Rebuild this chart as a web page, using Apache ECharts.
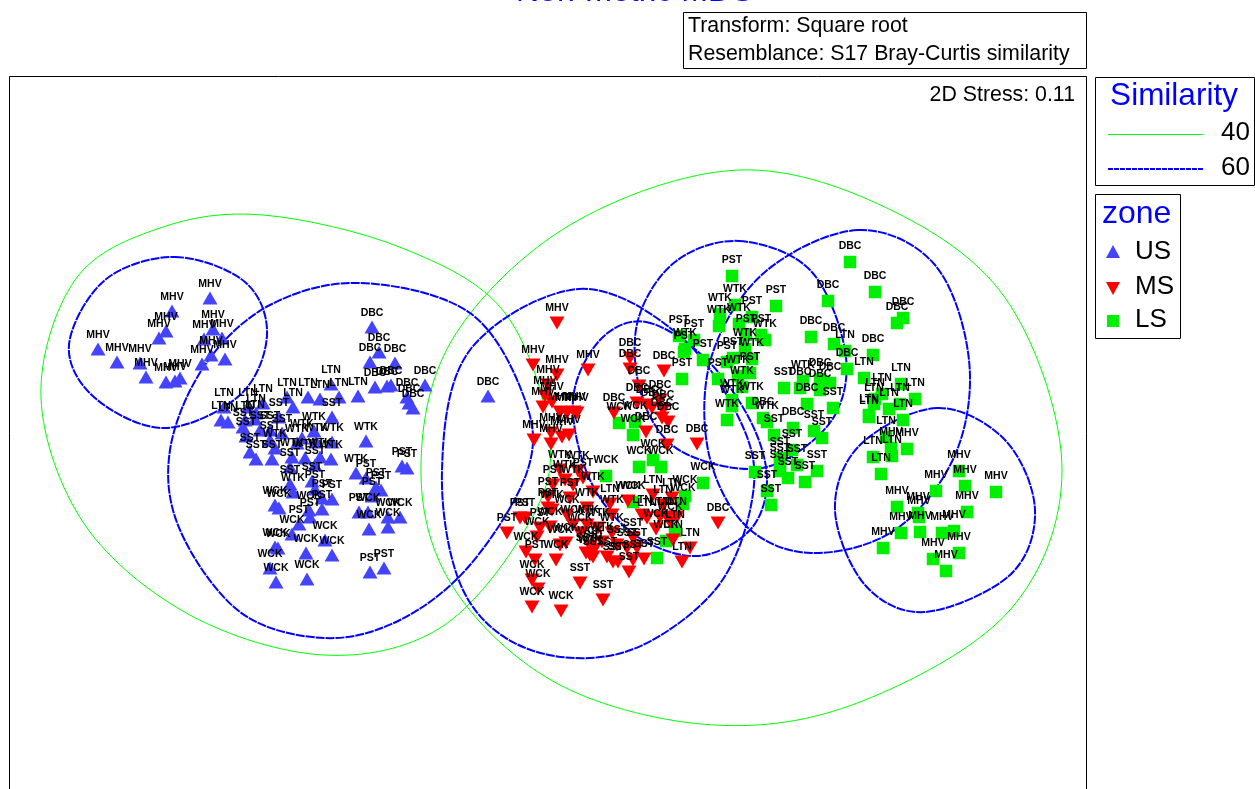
<!DOCTYPE html>
<html>
<head>
	<meta charset="utf-8">
	<title>Non-metric MDS</title>
	<style>html,body{margin:0;padding:0;background:#fff;overflow:hidden}</style>
</head>
<body>
	<div id="mds" style="width:1255px;height:789px;"></div>
	<script src="https://cdn.jsdelivr.net/npm/echarts@6/dist/echarts.min.js"></script>
	<script type="text/javascript">
		// ordination points, [x, y, site]
		var usPoints = [
			[210,298,'MHV'],[172,311,'MHV'],[166,331,'MHV'],[159,338,'MHV'],[98,349,'MHV'],[117,362,'MHV'],[140,363,'MHV'],[146,377,'MHV'],
			[166,382,'MHV'],[175,381,'MHV'],[180,378,'MHV'],[202,364,'MHV'],[211,355,'MHV'],[225,359,'MHV'],[204,339,'MHV'],[222,338,'MHV'],[213,329,'MHV'],
			[372,327,'DBC'],[370,362,'DBC'],[379,352,'DBC'],[395,363,'DBC'],[375,387,'DBC'],[387,386,'DBC'],[391,385,'DBC'],[425,385,'DBC'],[407,397,'DBC'],[409,403,'DBC'],[413,408,'DBC'],[488,396,'DBC'],
			[331,384,'LTN'],[287,397,'LTN'],[308,397,'LTN'],[320,399,'LTN'],[339,397,'LTN'],[358,396,'LTN'],[293,407,'LTN'],[224,407,'LTN'],[248,407,'LTN'],[263,403,'LTN'],[256,413,'LTN'],[221,420,'LTN'],[228,422,'LTN'],[245,420,'LTN'],[255,419,'LTN'],
			[279,417,'SST'],[332,417,'SST'],[243,427,'SST'],[260,430,'SST'],[270,430,'SST'],[282,433,'SST'],[246,436,'SST'],[270,440,'SST'],[250,452,'SST'],[256,459,'SST'],[272,459,'SST'],[290,467,'SST'],[315,465,'SST'],[290,484,'SST'],[312,481,'SST'],
			[314,431,'WTK'],[302,438,'WTK'],[297,443,'WTK'],[316,442,'WTK'],[332,442,'WTK'],[275,448,'WTK'],[292,457,'WTK'],[305,458,'WTK'],[320,457,'WTK'],[331,459,'WTK'],[366,441,'WTK'],[356,473,'WTK'],[293,492,'WTK'],
			[366,478,'PST'],[376,487,'PST'],[381,490,'PST'],[372,496,'PST'],[402,466,'PST'],[407,468,'PST'],[315,489,'PST'],[322,498,'PST'],[332,499,'PST'],[322,509,'PST'],[310,517,'PST'],[299,524,'PST'],[359,512,'PST'],[370,572,'PST'],[384,568,'PST'],
			[275,505,'WCK'],[279,508,'WCK'],[309,510,'WCK'],[368,512,'WCK'],[388,517,'WCK'],[400,517,'WCK'],[369,529,'WCK'],[388,527,'WCK'],[292,534,'WCK'],[325,540,'WCK'],[275,547,'WCK'],[278,548,'WCK'],[306,553,'WCK'],[332,555,'WCK'],[270,568,'WCK'],[276,582,'WCK'],[307,579,'WCK']
		];
		var msPoints = [
			[557,323,'MHV'],[533,365,'MHV'],[557,375,'MHV'],[588,370,'MHV'],[548,385,'MHV'],[545,396,'MHV'],[552,402,'MHV'],[543,407,'MHV'],[560,412,'MHV'],[567,413,'MHV'],[574,412,'MHV'],[577,413,'MHV'],[534,440,'MHV'],[551,433,'MHV'],[551,444,'MHV'],[562,437,'MHV'],[569,435,'MHV'],
			[630,358,'DBC'],[630,369,'DBC'],[664,371,'DBC'],[639,386,'DBC'],[614,413,'DBC'],[637,403,'DBC'],[647,405,'DBC'],[660,400,'DBC'],[663,410,'DBC'],[662,418,'DBC'],[668,422,'DBC'],[646,432,'DBC'],[667,445,'DBC'],[697,444,'DBC'],[652,408,'DBC'],[718,523,'DBC'],
			[560,470,'WTK'],[578,471,'WTK'],[565,480,'WTK'],[573,485,'WTK'],[593,492,'WTK'],[587,508,'WTK'],[552,510,'WTK'],[587,525,'WTK'],[598,528,'WTK'],[612,533,'WTK'],[602,542,'WTK'],[590,555,'WTK'],[612,515,'WTK'],
			[583,478,'PST'],[553,485,'PST'],[548,497,'PST'],[570,498,'PST'],[520,518,'PST'],[525,518,'PST'],[507,533,'PST'],[540,528,'PST'],[548,508,'PST'],[535,560,'PST'],
			[567,515,'WCK'],[550,527,'WCK'],[526,552,'WCK'],[556,560,'WCK'],[537,537,'WCK'],[560,545,'WCK'],[566,543,'WCK'],[573,525,'WCK'],[580,533,'WCK'],[590,546,'WCK'],[532,580,'WCK'],[538,589,'WCK'],[532,607,'WCK'],[561,611,'WCK'],
			[633,538,'SST'],[586,553,'SST'],[593,557,'SST'],[594,550,'SST'],[607,557,'SST'],[613,562,'SST'],[618,562,'SST'],[617,545,'SST'],[627,548,'SST'],[637,548,'SST'],[633,560,'SST'],[644,559,'SST'],[629,572,'SST'],[580,583,'SST'],[603,600,'SST'],
			[610,504,'LTN'],[628,501,'WCK'],[672,498,'LTN'],[663,505,'LTN'],[642,515,'LTN'],[653,495,'LTN'],[647,518,'LTN'],[656,529,'WCK'],[670,522,'WCK'],[660,517,'LTN'],[667,517,'LTN'],[677,517,'LTN'],[682,562,'LTN'],[690,548,'LTN'],[673,540,'LTN']
		];
		var lsPoints = [
			[732,276,'PST'],[752,317,'PST'],[776,306,'PST'],[746,335,'PST'],[761,335,'PST'],[733,358,'PST'],[727,362,'PST'],[750,373,'PST'],[718,379,'PST'],[682,379,'PST'],[703,360,'PST'],[684,352,'PST'],[679,336,'PST'],[694,340,'PST'],
			[735,305,'WTK'],[720,314,'WTK'],[719,326,'WTK'],[739,324,'WTK'],[765,340,'WTK'],[745,349,'WTK'],[752,359,'WTK'],[738,376,'WTK'],[742,387,'WTK'],[685,349,'WTK'],[732,400,'WTK'],[732,406,'WTK'],[752,403,'WTK'],[727,420,'WTK'],[767,422,'WTK'],[803,381,'WTK'],
			[850,262,'DBC'],[875,292,'DBC'],[828,301,'DBC'],[903,318,'DBC'],[897,323,'DBC'],[811,337,'DBC'],[834,344,'DBC'],[847,369,'DBC'],[873,355,'DBC'],[820,379,'DBC'],[830,383,'DBC'],[800,388,'DBC'],[820,390,'DBC'],[807,404,'DBC'],[793,428,'DBC'],[763,418,'DBC'],
			[784,388,'SST'],[833,408,'SST'],[814,431,'SST'],[822,438,'SST'],[774,435,'SST'],[792,450,'SST'],[780,458,'SST'],[780,464,'SST'],[797,465,'SST'],[788,478,'SST'],[805,482,'SST'],[817,471,'SST'],[755,472,'SST'],[767,491,'SST'],[771,505,'SST'],[780,471,'SST'],[657,558,'SST'],
			[845,351,'LTN'],[864,378,'LTN'],[901,384,'LTN'],[915,399,'LTN'],[882,394,'LTN'],[875,399,'LTN'],[874,404,'LTN'],[900,404,'LTN'],[889,409,'LTN'],[869,415,'LTN'],[869,417,'LTN'],[903,420,'LTN'],[886,437,'LTN'],[873,457,'LTN'],[892,456,'LTN'],[881,474,'LTN'],[675,531,'LTN'],
			[907,449,'MHV'],[891,448,'MHV'],[959,471,'MHV'],[965,486,'MHV'],[996,492,'MHV'],[936,491,'MHV'],[897,507,'MHV'],[967,512,'MHV'],[919,517,'MHV'],[918,513,'MHV'],[901,533,'MHV'],[920,532,'MHV'],[942,533,'MHV'],[954,531,'MHV'],[883,548,'MHV'],[959,553,'MHV'],[933,559,'MHV'],[946,571,'MHV'],
			[619,423,'WCK'],[635,422,'WCK'],[633,435,'WCK'],[639,467,'WCK'],[653,460,'WCK'],[661,467,'WCK'],[606,476,'WCK'],[703,483,'WCK'],[633,502,'WCK'],[685,496,'WCK'],[683,504,'WCK'],[666,541,'WCK']
		];

		// similarity contours, outline points going round each cluster
		var green40a = [[263,215],[402,248],[505,313],[550,440],[525,530],[440,628],[324,655],[190,615],[85,525],[41,398],[75,280],[160,228]];
		var green40b = [[739,170],[895,212],[1010,305],[1062,470],[1010,610],[860,702],[714,725],[560,685],[455,590],[421,474],[452,340],[570,225]];
		var blue60a = [[175,257],[245,282],[267,335],[240,395],[165,428],[95,398],[69,345],[105,280]];
		var blue60b = [[361,283],[470,313],[525,400],[527,472],[470,565],[400,620],[324,638],[240,612],[180,530],[170,450],[205,365],[270,305]];
		var blue60c = [[579,289],[680,336],[743,427],[752,500],[715,590],[625,652],[528,649],[463,590],[442,470],[470,350]];
		var blue60d = [[646,322],[705,358],[750,420],[767,480],[750,530],[697,556],[635,535],[590,480],[573,400],[600,340]];
		var blue60e = [[739,241],[810,270],[845,350],[835,415],[785,460],[735,468],[672,445],[640,390],[638,320],[675,262]];
		var blue60f = [[858,230],[935,265],[969,360],[955,455],[895,530],[811,553],[745,525],[708,450],[712,355],[765,272]];
		var blue60g = [[937,408],[1005,440],[1035,510],[1010,575],[925,612],[865,585],[835,510],[860,445]];

		var titleText = 'Non-metric MDS';
		var infoLines = ['Transform: Square root', 'Resemblance: S17 Bray-Curtis similarity'];
		var stressText = '2D Stress: 0.11';
		var similarityLevels = ['40', '60'];
		var zoneNames = ['US', 'MS', 'LS'];

		var fontName = '"Liberation Sans", Arial, sans-serif';
		var usColor = '#4444ff', msColor = '#ff0000', lsColor = '#00ee00';
		var greenLine = '#00ff00', blueLine = '#0000ff';

		function pointSeries(name, points, symbol, size, color, rotate, gap) {
			return {
				name: name,
				type: 'scatter',
				data: points,
				symbol: symbol,
				symbolSize: size,
				symbolRotate: rotate,
				itemStyle: { color: color, opacity: 1 },
				label: {
					show: true,
					position: 'top',
					distance: gap,
					color: '#000',
					fontFamily: fontName,
					fontWeight: 'bold',
					fontSize: 10.5,
					formatter: function (p) { return p.value[2]; }
				},
				z: 3
			};
		}
		// closed catmull-rom curve through the outline points, line series corners at the extremes
		function contourSeries(points, color, width, dash) {
			return {
				type: 'custom',
				coordinateSystem: 'cartesian2d',
				data: points,
				encode: { x: 0, y: 1 },
				silent: true,
				z: 2,
				renderItem: function (params, api) {
					if (params.dataIndex > 0) {
						return;
					}
					var p = points.map(function (d) { return api.coord(d); });
					var n = p.length;
					var d = 'M' + p[0][0] + ' ' + p[0][1];
					for (var i = 0; i < n; i++) {
						var p0 = p[(i + n - 1) % n], p1 = p[i], p2 = p[(i + 1) % n], p3 = p[(i + 2) % n];
						d += 'C' + (p1[0] + (p2[0] - p0[0]) / 6) + ' ' + (p1[1] + (p2[1] - p0[1]) / 6) + ' '
							+ (p2[0] - (p3[0] - p1[0]) / 6) + ' ' + (p2[1] - (p3[1] - p1[1]) / 6) + ' '
							+ p2[0] + ' ' + p2[1];
					}
					return {
						type: 'path',
						shape: { pathData: d + 'Z' },
						style: { fill: 'none', stroke: color, lineWidth: width, lineDash: dash }
					};
				}
			};
		}
		function boxText(x, y, text, size, color, align) {
			return {
				type: 'text',
				x: x,
				y: y,
				silent: true,
				style: { text: text, fill: color || '#000', font: size + 'px ' + fontName, textAlign: align || 'left', textVerticalAlign: 'middle' }
			};
		}
		function box(x, y, w, h) {
			return {
				type: 'rect',
				silent: true,
				shape: { x: x + 0.5, y: y + 0.5, width: w, height: h },
				style: { fill: '#fff', stroke: '#000', lineWidth: 1 }
			};
		}
		function legendLine(y, color, width, dash) {
			return {
				type: 'line',
				silent: true,
				shape: { x1: 1108, y1: y, x2: 1203, y2: y },
				style: { stroke: color, lineWidth: width, lineDash: dash }
			};
		}

		var myChart = echarts.init(document.getElementById('mds'));
		var option = {
			animation: false,
			backgroundColor: '#fff',
			title: {
				text: titleText,
				left: 511,
				top: -29,
				textStyle: { color: blueLine, fontFamily: fontName, fontWeight: 'normal', fontSize: 32 }
			},
			grid: {
				show: true,
				left: 9.5,
				top: 76.5,
				width: 1077,
				height: 760,
				outerBoundsMode: 'none',
				borderColor: '#000',
				borderWidth: 1,
				backgroundColor: '#fff'
			},
			xAxis: { type: 'value', min: 9.5, max: 1086.5, show: false },
			yAxis: { type: 'value', min: 76.5, max: 836.5, inverse: true, show: false },
			series: [
				contourSeries(green40a, greenLine, 1, null),
				contourSeries(green40b, greenLine, 1, null),
				contourSeries(blue60a, blueLine, 2, [9, 1]),
				contourSeries(blue60b, blueLine, 2, [9, 1]),
				contourSeries(blue60c, blueLine, 2, [9, 1]),
				contourSeries(blue60d, blueLine, 2, [9, 1]),
				contourSeries(blue60e, blueLine, 2, [9, 1]),
				contourSeries(blue60f, blueLine, 2, [9, 1]),
				contourSeries(blue60g, blueLine, 2, [9, 1]),
				pointSeries('LS', lsPoints, 'rect', 12.5, lsColor, 0, 4),
				pointSeries('MS', msPoints, 'triangle', [15, 13], msColor, 180, 3),
				pointSeries('US', usPoints, 'triangle', [15, 13], usColor, 0, 2)
			],
			graphic: [
				box(683, 12, 403, 56),
				boxText(688, 26, infoLines[0], 21.33),
				boxText(688, 54, infoLines[1], 21.33),
				boxText(1075, 95, stressText, 21.33, '#000', 'right'),
				box(1095, 77, 159, 108),
				boxText(1174, 96, 'Similarity', 31.5, blueLine, 'center'),
				legendLine(134.5, greenLine, 1),
				legendLine(169, blueLine, 2, [5, 1]),
				boxText(1250, 133, similarityLevels[0], 26, '#000', 'right'),
				boxText(1250, 168, similarityLevels[1], 26, '#000', 'right'),
				box(1095, 194, 85, 144),
				boxText(1102, 214, 'zone', 32, blueLine),
				{ type: 'polygon', silent: true, shape: { points: [[1113, 245], [1120, 258], [1106, 258]] }, style: { fill: usColor } },
				{ type: 'polygon', silent: true, shape: { points: [[1106, 282], [1120, 282], [1113, 295]] }, style: { fill: msColor } },
				{ type: 'rect', silent: true, shape: { x: 1107, y: 315, width: 12, height: 12 }, style: { fill: lsColor } },
				boxText(1135, 252, zoneNames[0], 26),
				boxText(1135, 287, zoneNames[1], 26),
				boxText(1135, 320, zoneNames[2], 26)
			]
		};
		myChart.setOption(option);
	</script>
</body>
</html>
